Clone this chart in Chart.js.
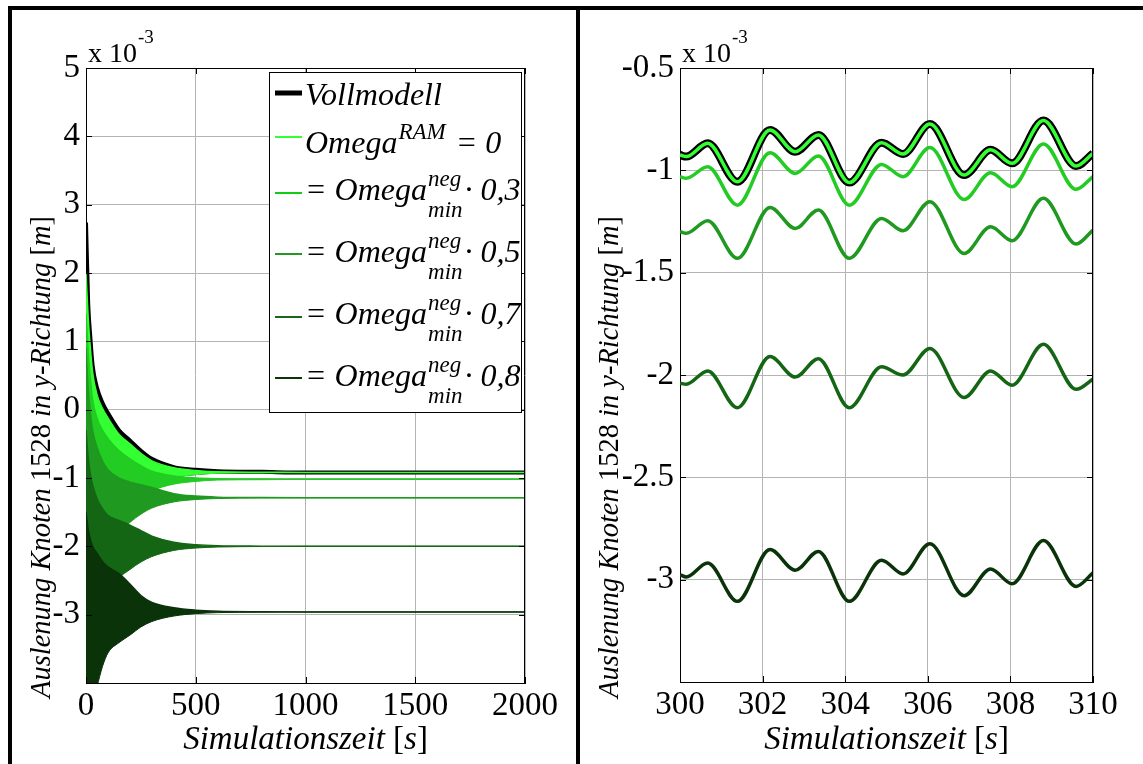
<!DOCTYPE html>
<html lang="de">
<head>
<meta charset="UTF-8">
<title>Auslenung Knoten 1528</title>
<script src="https://cdn.jsdelivr.net/npm/chart.js"></script>
<style>
  body { margin: 0; background: #fff; }
  #page { position: relative; width: 1143px; height: 764px; overflow: hidden; background: #fff; }
  .rule { position: absolute; background: #000; }
  .panel { position: absolute; }
</style>
</head>
<body>
<div id="page">
  <div class="panel" style="left:12px;top:10px;width:564px;height:754px"><canvas id="left" width="564" height="754"></canvas></div>
  <div class="panel" style="left:580px;top:10px;width:563px;height:754px"><canvas id="right" width="563" height="754"></canvas></div>
  <div class="rule" style="left:8px;top:6px;width:1135px;height:4px"></div>
  <div class="rule" style="left:8px;top:6px;width:4px;height:758px"></div>
  <div class="rule" style="left:576px;top:6px;width:4px;height:758px"></div>
</div>

<script>
  // ---- left panel: envelope of the oscillation (values in 1e-3 m)
  const tEnv = [0, 10, 20, 30, 50, 75, 100, 150, 200, 250, 300, 400, 500, 600, 800, 1000, 2000];

  const vollUpper = [2.74, 1.55, 1.05, 0.65, 0.32, 0.10, -0.05, -0.30, -0.45, -0.60, -0.72, -0.84, -0.88, -0.90, -0.91, -0.92, -0.92];
  const vollLower = [-3.84, -3.19, -2.74, -2.39, -2.06, -1.86, -1.72, -1.48, -1.34, -1.20, -1.09, -0.99, -0.95, -0.93, -0.925, -0.92, -0.92];

  const om0Upper = [2.00, 1.35, 0.90, 0.55, 0.22, 0.02, -0.12, -0.36, -0.50, -0.64, -0.75, -0.85, -0.89, -0.91, -0.915, -0.92, -0.92];
  const om0Lower = [-3.84, -3.19, -2.74, -2.39, -2.06, -1.86, -1.72, -1.48, -1.34, -1.20, -1.09, -0.99, -0.95, -0.93, -0.925, -0.92, -0.92];

  const om3Upper = [1.40, 0.85, 0.45, 0.15, -0.12, -0.30, -0.42, -0.60, -0.72, -0.82, -0.90, -0.97, -1.00, -1.01, -1.015, -1.02, -1.02];
  const om3Lower = [-3.94, -3.29, -2.84, -2.49, -2.16, -1.96, -1.82, -1.58, -1.44, -1.30, -1.19, -1.09, -1.05, -1.03, -1.025, -1.02, -1.02];

  const om5Upper = [0.90, 0.30, -0.05, -0.30, -0.55, -0.75, -0.88, -1.00, -1.06, -1.10, -1.14, -1.23, -1.265, -1.28, -1.287, -1.29, -1.29];
  const om5Lower = [-4.19, -3.54, -3.09, -2.74, -2.41, -2.21, -2.07, -1.81, -1.65, -1.53, -1.44, -1.35, -1.315, -1.30, -1.293, -1.29, -1.29];

  const om7Upper = [-0.30, -0.70, -0.95, -1.10, -1.30, -1.45, -1.55, -1.62, -1.69, -1.77, -1.85, -1.94, -1.975, -1.99, -1.997, -2.00, -2.00];
  const om7Lower = [-4.80, -4.20, -3.75, -3.40, -3.08, -2.88, -2.74, -2.47, -2.34, -2.23, -2.15, -2.06, -2.025, -2.01, -2.003, -2.00, -2.00];

  const om8Upper = [-1.50, -1.75, -1.90, -2.00, -2.10, -2.22, -2.30, -2.40, -2.55, -2.72, -2.82, -2.90, -2.935, -2.95, -2.957, -2.96, -2.96];
  const om8Lower = [-5.46, -4.96, -4.61, -4.34, -4.06, -3.76, -3.56, -3.41, -3.30, -3.18, -3.10, -3.02, -2.985, -2.97, -2.963, -2.96, -2.96];

  // ---- right panel: 300 s .. 310 s, extrema
  const tZoom = [300, 300.15, 300.67, 301.39, 302.18, 302.79, 303.35, 304.1, 304.88, 305.4, 306.05, 306.88, 307.52, 308.04, 308.8, 309.59, 310];
  const vollZoom = [-0.925, -0.933, -0.868, -1.056, -0.803, -0.909, -0.827, -1.06, -0.865, -0.92, -0.774, -1.023, -0.90, -0.966, -0.757, -0.979, -0.917];
  const om0Zoom  = [-0.925, -0.933, -0.868, -1.056, -0.803, -0.909, -0.827, -1.06, -0.865, -0.92, -0.774, -1.023, -0.90, -0.966, -0.757, -0.979, -0.917];
  const om3Zoom  = [-1.031, -1.039, -0.982, -1.17, -0.914, -1.015, -0.93, -1.17, -0.971, -1.031, -0.889, -1.142, -1.012, -1.08, -0.871, -1.093, -1.031];
  const om5Zoom  = [-1.30, -1.308, -1.246, -1.43, -1.181, -1.284, -1.194, -1.43, -1.235, -1.295, -1.153, -1.406, -1.276, -1.344, -1.137, -1.36, -1.292];
  const om7Zoom  = [-2.04, -2.045, -1.98, -2.16, -1.91, -2.01, -1.92, -2.16, -1.96, -2.0, -1.87, -2.11, -1.98, -2.05, -1.85, -2.07, -2.02];
  const om8Zoom  = [-2.976, -2.987, -2.919, -3.106, -2.853, -2.954, -2.862, -3.106, -2.905, -2.972, -2.824, -3.078, -2.948, -3.02, -2.809, -3.033, -2.967];

  // ticks
  const xTicksLeft = [0, 500, 1000, 1500, 2000];
  const yTicksLeft = [-4, -3, -2, -1, 0, 1, 2, 3, 4, 5];
  const xTicksRight = [300, 302, 304, 306, 308, 310];
  const yTicksRight = [-3.5, -3, -2.5, -2, -1.5, -1, -0.5];

  // legend text
  const legendRows = [
    { pre: '', base: 'Vollmodell', sup: '', sub: '', post: '' },
    { pre: '', base: 'Omega', sup: 'RAM', sub: '', post: ' = 0' },
    { pre: '= ', base: 'Omega', sup: 'neg', sub: 'min', post: '\u00b7 0,3' },
    { pre: '= ', base: 'Omega', sup: 'neg', sub: 'min', post: '\u00b7 0,5' },
    { pre: '= ', base: 'Omega', sup: 'neg', sub: 'min', post: '\u00b7 0,7' },
    { pre: '= ', base: 'Omega', sup: 'neg', sub: 'min', post: '\u00b7 0,8' }
  ];

  const colVoll = '#000000';
  const col0 = '#33ff33';
  const col3 = '#22cc22';
  const col5 = '#1f991f';
  const col7 = '#146614';
  const col8 = '#0a330a';

  const FAMILY = '"Liberation Serif", "Times New Roman", serif';
  const font = (style, size) => (style === 'i' ? 'italic ' : '') + size + 'px ' + FAMILY;

  function pts(xs, ys) {
    return xs.map((x, i) => ({ x: x, y: ys[i] }));
  }

  function drawRich(ctx, parts, size, x, y, center) {
    let total = 0;
    parts.forEach(p => { ctx.font = font(p[1], size); total += ctx.measureText(p[0]).width; });
    let cx = center ? x - total / 2 : x;
    parts.forEach(p => {
      ctx.font = font(p[1], size);
      ctx.fillText(p[0], cx, y);
      cx += ctx.measureText(p[0]).width;
    });
  }

  // box, inner ticks, exponent, axis titles, legend
  const framePlugin = {
    id: 'frame',
    afterDraw(chart, args, opts) {
      const ctx = chart.ctx;
      const a = chart.chartArea;
      const xs = chart.scales.x, ys = chart.scales.y;
      ctx.save();
      ctx.strokeStyle = '#000';
      ctx.lineWidth = 1;
      ctx.beginPath();
      opts.xt.forEach(v => {
        const px = Math.round(xs.getPixelForValue(v)) + 0.5;
        ctx.moveTo(px, a.bottom); ctx.lineTo(px, a.bottom - 6);
        ctx.moveTo(px, a.top); ctx.lineTo(px, a.top + 6);
      });
      opts.yt.forEach(v => {
        const py = Math.round(ys.getPixelForValue(v)) + 0.5;
        ctx.moveTo(a.left, py); ctx.lineTo(a.left + 6, py);
        ctx.moveTo(a.right, py); ctx.lineTo(a.right - 6, py);
      });
      ctx.moveTo(a.left, a.top + 0.5); ctx.lineTo(a.right, a.top + 0.5);
      ctx.moveTo(a.right - 0.5, a.top); ctx.lineTo(a.right - 0.5, a.bottom);
      ctx.stroke();

      ctx.fillStyle = '#000';
      ctx.textAlign = 'left';
      ctx.textBaseline = 'alphabetic';
      // exponent
      ctx.font = '28px ' + FAMILY;
      ctx.fillText('x 10', a.left + 2, a.top - 6);
      const w = ctx.measureText('x 10').width;
      ctx.font = '19px ' + FAMILY;
      ctx.fillText('-3', a.left + 3 + w, a.top - 25);

      // x title
      drawRich(ctx, [['Simulationszeit ', 'i'], ['[', 'n'], ['s', 'i'], [']', 'n']], 33,
        (a.left + a.right) / 2, 739, true);

      // y title
      ctx.save();
      ctx.translate(38, 447);
      ctx.rotate(-Math.PI / 2);
      drawRich(ctx, [['Auslenung Knoten ', 'i'], ['1528', 'n'], [' in y-Richtung ', 'i'], ['[', 'n'], ['m', 'i'], [']', 'n']], 28.5, 0, 0, true);
      ctx.restore();

      if (opts.legend) {
        const bx = a.left + 183, by = a.top + 4, bw = a.right - 4 - bx, bh = 340;
        ctx.fillStyle = '#fff';
        ctx.fillRect(bx, by, bw, bh);
        ctx.strokeRect(bx + 0.5, by + 0.5, bw, bh);
        const lineY = [21, 65, 121, 182, 245, 306];
        const baseY = [33, 81, 128, 190, 252, 314];
        const cols = [colVoll, col0, '#11cc11', '#229922', '#1a661a', '#0d330d'];
        const widths = [5, 2, 2, 2, 2, 2];
        legendRows.forEach((r, i) => {
          ctx.strokeStyle = cols[i];
          ctx.lineWidth = widths[i];
          ctx.beginPath();
          ctx.moveTo(bx + 6, by + lineY[i]);
          ctx.lineTo(bx + 33, by + lineY[i]);
          ctx.stroke();
          ctx.fillStyle = '#000';
          let x = bx + 36;
          const yb = by + baseY[i];
          ctx.font = font('i', 32);
          ctx.fillText(r.pre + r.base, x, yb);
          x += ctx.measureText(r.pre + r.base).width;
          if (r.sup || r.sub) {
            ctx.font = font('i', 23);
            let ww = 0;
            if (r.sup) { ctx.fillText(r.sup, x + 1, yb - 14); ww = Math.max(ww, ctx.measureText(r.sup).width); }
            if (r.sub) { ctx.fillText(r.sub, x + 1, yb + 17); ww = Math.max(ww, ctx.measureText(r.sub).width); }
            x += ww + 3;
          }
          if (r.post) {
            ctx.font = font('i', 32);
            ctx.fillText(r.post, x, yb);
          }
        });
      }
      ctx.restore();
    }
  };

  function axes(xMin, xMax, xStep, yMin, yMax, yStep, yWidth, xHeight, hideY) {
    const tickFont = { family: FAMILY, size: 33 };
    return {
      x: {
        type: 'linear', min: xMin, max: xMax,
        ticks: { stepSize: xStep, font: tickFont, color: '#000', padding: 4, maxRotation: 0, autoSkip: false,
          callback: v => String(v) },
        grid: { color: '#b4b4b4', lineWidth: 1, drawTicks: false },
        border: { color: '#000', width: 1 },
        afterFit: s => { s.height = xHeight; }
      },
      y: {
        type: 'linear', min: yMin, max: yMax,
        ticks: { stepSize: yStep, font: tickFont, color: '#000', padding: 6, autoSkip: false,
          callback: v => (Math.abs(v - hideY) < 1e-9 ? '' : String(Math.round(v * 10) / 10)) },
        grid: { color: '#b4b4b4', lineWidth: 1, drawTicks: false },
        border: { color: '#000', width: 1 },
        afterFit: s => { s.width = yWidth; }
      }
    };
  }

  function band(upper, lower, color, width, order) {
    return [
      { data: pts(tEnv, upper), borderColor: color, backgroundColor: color, borderWidth: width,
        fill: '+1', order: order, pointRadius: 0, cubicInterpolationMode: 'monotone' },
      { data: pts(tEnv, lower), borderColor: color, backgroundColor: color, borderWidth: 1,
        fill: false, order: order, pointRadius: 0, cubicInterpolationMode: 'monotone' }
    ];
  }

  new Chart(document.getElementById('left'), {
    type: 'line',
    data: {
      datasets: [].concat(
        band(vollUpper, vollLower, colVoll, 4, 6),
        band(om0Upper, om0Lower, col0, 1.5, 5),
        band(om3Upper, om3Lower, col3, 1.5, 4),
        band(om5Upper, om5Lower, col5, 1.5, 3),
        band(om7Upper, om7Lower, col7, 1.5, 2),
        band(om8Upper, om8Lower, col8, 1.5, 1)
      )
    },
    options: {
      responsive: false, animation: false, devicePixelRatio: 1,
      layout: { padding: { left: 0, top: 58, right: 51, bottom: 0 } },
      scales: axes(0, 2000, 500, -4, 5, 1, 74, 81, -4),
      plugins: {
        legend: { display: false }, tooltip: { enabled: false },
        frame: { legend: true, xt: xTicksLeft, yt: yTicksLeft }
      }
    },
    plugins: [framePlugin]
  });

  function zoomLine(ys, color, width, order) {
    return { data: pts(tZoom, ys), borderColor: color, borderWidth: width, fill: false, order: order,
      pointRadius: 0, cubicInterpolationMode: 'monotone' };
  }

  new Chart(document.getElementById('right'), {
    type: 'line',
    data: {
      datasets: [
        zoomLine(vollZoom, colVoll, 8, 6),
        zoomLine(om0Zoom, col0, 3.5, 5),
        zoomLine(om3Zoom, col3, 3.5, 4),
        zoomLine(om5Zoom, col5, 3.5, 3),
        zoomLine(om7Zoom, col7, 3.5, 2),
        zoomLine(om8Zoom, col8, 3.5, 1)
      ]
    },
    options: {
      responsive: false, animation: false, devicePixelRatio: 1,
      layout: { padding: { left: 0, top: 58, right: 50, bottom: 0 } },
      scales: axes(300, 310, 2, -3.5, -0.5, 0.5, 100, 82, -3.5),
      plugins: {
        legend: { display: false }, tooltip: { enabled: false },
        frame: { legend: false, xt: xTicksRight, yt: yTicksRight }
      }
    },
    plugins: [framePlugin]
  });
</script>
</body>
</html>
